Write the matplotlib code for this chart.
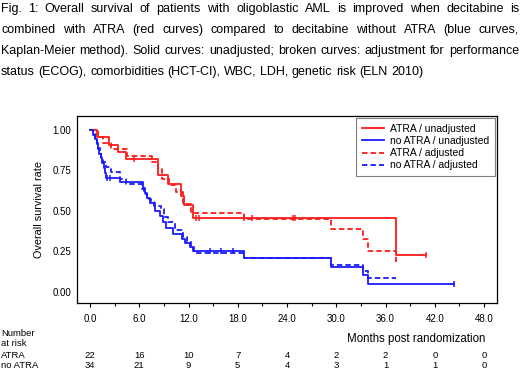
import numpy as np
import matplotlib
matplotlib.use('Agg')
import matplotlib.pyplot as plt
from matplotlib.font_manager import FontProperties
from matplotlib.transforms import blended_transform_factory

plt.rcParams['font.family'] = ['Liberation Sans', 'DejaVu Sans']

caption_lines = [
    "Fig. 1: Overall survival of patients with oligoblastic AML is improved when decitabine is",
    "combined with ATRA (red curves) compared to decitabine without ATRA (blue curves,",
    "Kaplan-Meier method). Solid curves: unadjusted; broken curves: adjustment for performance",
    "status (ECOG), comorbidities (HCT-CI), WBC, LDH, genetic risk (ELN 2010)",
]

# ATRA / unadjusted
atra_t = [0, 0.8, 2.3, 3.4, 4.4, 8.3, 9.5, 11.1, 11.4, 12.5, 37.3]
atra_s = [1.0, 0.955, 0.909, 0.864, 0.818, 0.72, 0.665, 0.595, 0.535, 0.458, 0.228]
atra_end = 40.9
atra_cens = [5.4, 12.9, 13.3, 18.7, 19.7, 24.7, 25.0, 40.9]

# no ATRA / unadjusted
noatra_t = [0, 0.4, 0.6, 0.8, 1.0, 1.15, 1.3, 1.5, 1.65, 1.8, 2.0, 3.7,
            6.4, 6.7, 7.0, 7.3, 7.9, 8.5, 8.9, 9.3, 10.1, 11.2, 11.6, 12.2, 12.5,
            18.8, 29.4, 33.3, 33.9]
noatra_s = [1.0, 0.971, 0.941, 0.912, 0.882, 0.853, 0.824, 0.794, 0.765, 0.735, 0.706, 0.676,
            0.64, 0.61, 0.58, 0.55, 0.50, 0.47, 0.43, 0.395, 0.36, 0.33, 0.30, 0.28, 0.255,
            0.208, 0.156, 0.105, 0.052]
noatra_end = 44.3
noatra_cens = [2.1, 2.4, 14.6, 16.0, 17.4, 44.3]

# ATRA / adjusted
atra_adj_t = [0, 1.0, 1.6, 2.6, 4.5, 7.5, 8.3, 8.8, 9.6, 10.5, 11.3, 12.3,
              18.7, 29.4, 33.3, 33.9, 37.3]
atra_adj_s = [1.0, 0.955, 0.92, 0.885, 0.84, 0.80, 0.76, 0.70, 0.66, 0.62, 0.54, 0.485,
              0.449, 0.387, 0.325, 0.255, 0.187]
atra_adj_end = 37.3

# no ATRA / adjusted
noatra_adj_t = [0, 0.4, 0.6, 0.8, 1.0, 1.2, 1.4, 1.6, 1.9, 2.5, 3.6, 4.4,
                6.3, 6.6, 6.9, 7.4, 7.8, 8.6, 9.0, 9.5, 10.3, 11.3, 11.8, 12.3, 12.7,
                18.8, 29.4, 33.3, 33.9]
noatra_adj_s = [1.0, 0.975, 0.95, 0.92, 0.89, 0.865, 0.835, 0.80, 0.77, 0.74, 0.70, 0.665,
                0.635, 0.605, 0.575, 0.555, 0.53, 0.51, 0.465, 0.43, 0.385, 0.34, 0.31, 0.28, 0.24,
                0.208, 0.167, 0.13, 0.088]
noatra_adj_end = 37.3

risk_times = [0, 6, 12, 18, 24, 30, 36, 42, 48]
risk_atra = [22, 16, 10, 7, 4, 2, 2, 0, 0]
risk_noatra = [34, 21, 9, 5, 4, 3, 1, 1, 0]

RED = '#ff1a1a'
BLUE = '#1a1aff'
TICK = 7.0
SMALL = 6.8


def surv_at(t, s, x):
    idx = np.searchsorted(t, x, side='right') - 1
    return s[idx]


def draw_curve(ax, t, s, end, color, dashed, label, cens=None):
    line, = ax.step(list(t) + [end], list(s) + [s[-1]], where='post',
                    color=color, lw=1.3, label=label)
    if dashed:
        line.set_dashes((3, 1.7))
    if cens:
        ys = [surv_at(t, s, c) for c in cens]
        ax.plot(cens, ys, ls='none', marker='|', ms=5, mew=1.1, color=color)
    return line


fig = plt.figure(figsize=(5.2, 3.73), dpi=100)
W, H = 520, 373
ax = fig.add_axes([77 / W, 1 - 303 / H, 420 / W, 187 / H])

h1 = draw_curve(ax, atra_t, atra_s, atra_end, RED, False, 'ATRA / unadjusted', atra_cens)
h2 = draw_curve(ax, noatra_t, noatra_s, noatra_end, BLUE, False, 'no ATRA / unadjusted', noatra_cens)
h3 = draw_curve(ax, atra_adj_t, atra_adj_s, atra_adj_end, RED, True, 'ATRA / adjusted')
h4 = draw_curve(ax, noatra_adj_t, noatra_adj_s, noatra_adj_end, BLUE, True, 'no ATRA / adjusted')

ax.set_xlim(-1.58, 49.57)
ax.set_ylim(-0.068, 1.086)
ax.set_xticks(risk_times)
ax.set_xticks(np.arange(3, 48, 6), minor=True)
ax.set_xticklabels([f'{v:.1f}' for v in risk_times], fontsize=TICK)
ax.set_yticks([0, 0.25, 0.5, 0.75, 1.0])
ax.set_yticklabels(['0.00', '0.25', '0.50', '0.75', '1.00'], fontsize=TICK)
ax.tick_params(axis='x', which='major', length=3, width=0.8, pad=5)
ax.tick_params(axis='x', which='minor', length=2, width=0.8)
ax.tick_params(axis='y', length=0, pad=4)
for sp in ax.spines.values():
    sp.set_linewidth(0.9)
ax.set_ylabel('Overall survival rate', fontsize=7.8, labelpad=6)

leg = ax.legend(handles=[h1, h2, h3, h4], loc='upper right', bbox_to_anchor=(0.995, 0.99),
                borderaxespad=0, fontsize=7.5, fancybox=False, framealpha=1,
                edgecolor='#808080', handlelength=2.1, labelspacing=0.22,
                borderpad=0.55, handletextpad=0.6)
leg.get_frame().set_linewidth(0.8)

# number at risk table
tr = blended_transform_factory(ax.transData, fig.transFigure)
row_atra_y = 1 - 355 / H
row_noatra_y = 1 - 365 / H
for x, a, b in zip(risk_times, risk_atra, risk_noatra):
    ax.text(x, row_atra_y, str(a), transform=tr, ha='center', va='center', fontsize=SMALL)
    ax.text(x, row_noatra_y, str(b), transform=tr, ha='center', va='center', fontsize=SMALL)
fig.text(1 / W, 1 - 333 / H, 'Number', ha='left', va='center', fontsize=SMALL)
fig.text(1 / W, 1 - 343 / H, 'at risk', ha='left', va='center', fontsize=SMALL)
fig.text(1 / W, row_atra_y, 'ATRA', ha='left', va='center', fontsize=SMALL)
fig.text(1 / W, row_noatra_y, 'no ATRA', ha='left', va='center', fontsize=SMALL)
fig.text(485 / W, 1 - 339 / H, 'Months post randomization', ha='right', va='center',
         fontsize=8.3)

# justified caption, one text per word
fig.canvas.draw()
renderer = fig.canvas.get_renderer()
cap_prop = FontProperties(family=['Liberation Sans', 'DejaVu Sans'], size=9)


def snapped_baseline(word, row):
    # agg rounds each string's bitmap on its own; pick a baseline so that
    # every word lands its glyph baseline on the same pixel row
    try:
        from matplotlib.backends.backend_agg import get_hinting_flag
        font = renderer._prepare_font(cap_prop)
        font.set_text(word, 0, flags=get_hinting_flag())
        _, h26 = font.get_width_height()
        d26 = font.get_descent()
        r = row - int((h26 - d26) / 64) + h26 // 64
        return r - d26 / 64.0
    except Exception:
        return row


left_px, right_px = 1, 519
baseline_rows = [12, 33, 54, 75]
for i, (line, row) in enumerate(zip(caption_lines, baseline_rows)):
    words = line.split(' ')
    arts = [fig.text(0, 0, w, fontproperties=cap_prop, va='baseline', ha='left') for w in words]
    widths = [a.get_window_extent(renderer).width for a in arts]
    if i < len(caption_lines) - 1:
        gap = (right_px - left_px - sum(widths)) / (len(words) - 1)
    else:
        t1 = fig.text(0, 0, 'a a', fontproperties=cap_prop)
        t2 = fig.text(0, 0, 'aa', fontproperties=cap_prop)
        gap = t1.get_window_extent(renderer).width - t2.get_window_extent(renderer).width
        t1.remove()
        t2.remove()
    x = left_px
    for a, w, word in zip(arts, widths, words):
        b = snapped_baseline(word, row)
        a.set_position((x / W, (H - b) / H))
        x += w + gap

fig.savefig('out.png', dpi=100)
